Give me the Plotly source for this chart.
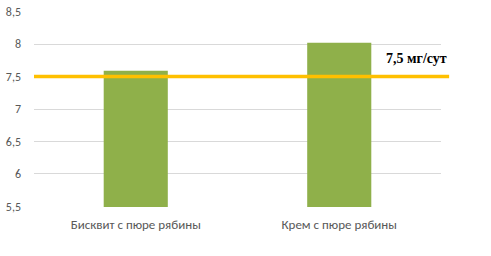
import plotly.graph_objects as go

categories = ["Бисквит с пюре рябины", "Крем с пюре рябины"]
values = [7.59, 8.02]
norm_value = 7.5
norm_label = "7,5 мг/сут"
y_ticks = [5.5, 6, 6.5, 7, 7.5, 8, 8.5]
y_tick_text = ["5,5", "6", "6,5", "7", "7,5", "8", "8,5"]

fig = go.Figure()
fig.add_trace(go.Bar(x=categories, y=values, marker_color="#8FB04A", width=0.315,
                     marker_line_width=0))
fig.add_shape(type="line", xref="paper", yref="y", x0=0, x1=1.02, y0=norm_value, y1=norm_value,
              line=dict(color="#FFC000", width=3.5), layer="above")
fig.add_annotation(xref="paper", yref="y", x=1.02, y=norm_value + 0.28, xanchor="right",
                   text="<b>" + norm_label + "</b>", showarrow=False,
                   font=dict(family="Liberation Serif, Times New Roman, serif", size=14, color="#000000"))

fig.update_layout(
    width=491, height=256,
    margin=dict(l=34, r=50, t=11, b=49),
    plot_bgcolor="white", paper_bgcolor="white",
    showlegend=False,
    font=dict(family="Carlito, Liberation Sans, Arial, sans-serif", size=12, color="#595959"),
    yaxis=dict(range=[5.49, 8.51], tickvals=y_ticks, ticktext=y_tick_text, showgrid=True,
               gridcolor="#D9D9D9", gridwidth=1, zeroline=False, showline=False,
               ticks="", automargin=False, ticklabelstandoff=12,
               tickfont=dict(size=12, color="#595959")),
    xaxis=dict(showgrid=False, showline=False, ticks="", automargin=False,
               ticklabelstandoff=8, tickfont=dict(size=13, color="#595959")),
    bargap=0.685,
)

fig.write_html("out.html", config={"displayModeBar": False},
               post_script="document.body.style.margin='0px';document.body.style.overflow='hidden';")
